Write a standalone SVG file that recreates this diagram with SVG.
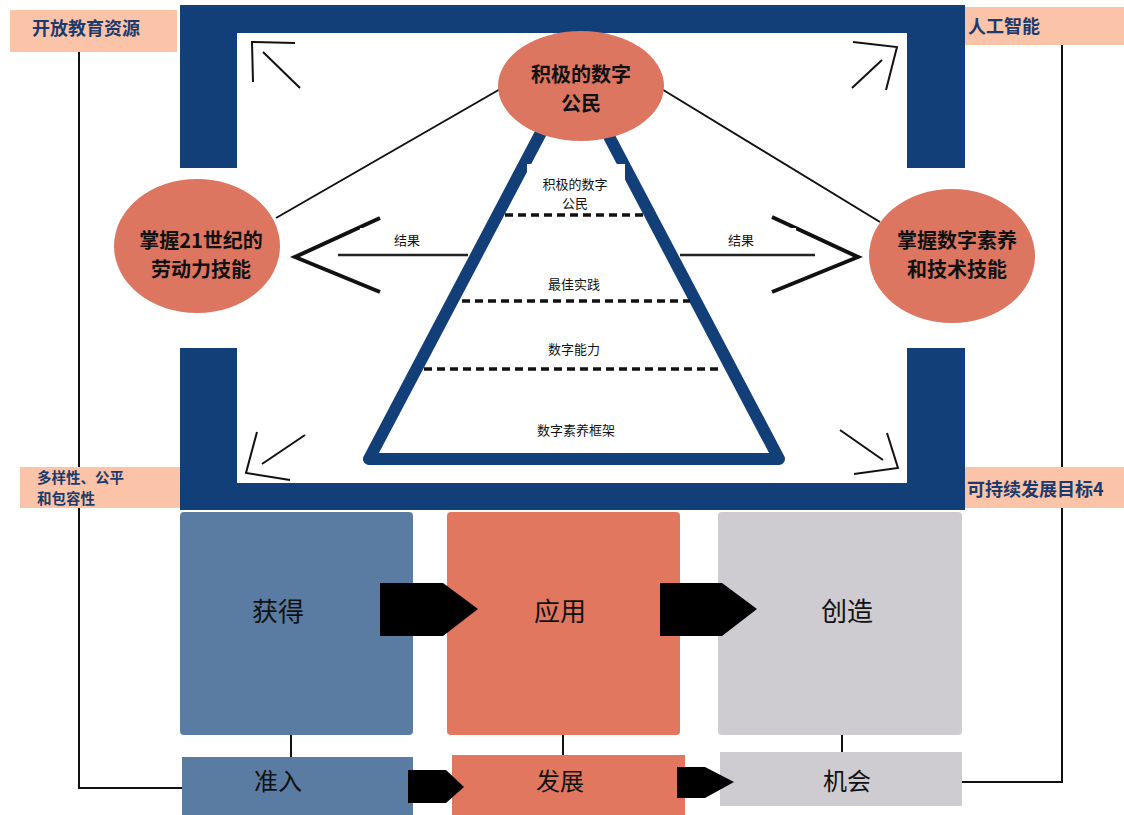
<svg xmlns="http://www.w3.org/2000/svg" width="1124" height="815" viewBox="0 0 1124 815">
<style>
text{font-family:"Noto Sans CJK SC","Noto Sans",sans-serif;text-anchor:middle}
.lab{font-weight:700;font-size:18px;fill:#1d3a6c;text-anchor:start}
.lab2{font-weight:700;font-size:14.5px;fill:#1d3a6c;text-anchor:start}
.peach{fill:#fbc4a8}
.frame{fill:#133f78}
.circ{fill:#dc7660}
.ct{font-weight:700;font-size:20px;fill:#111}
.thin{stroke:#111;stroke-width:2;fill:none}
.tri{font-size:13px;fill:#111}
.dash{stroke:#111;stroke-width:3.5;stroke-dasharray:8 5;fill:none}
.big{font-size:26px;fill:#111}
.bot{font-size:24px;fill:#111}
.arr{fill:#000}
</style>
<rect width="1124" height="815" fill="#fff"/>
<g id="connectors">
<polyline class="thin" points="79,52 79,788 182,788"/>
<polyline class="thin" points="1062,45 1062,782 962,782"/>
<line class="thin" x1="291" y1="735" x2="291" y2="757"/>
<line class="thin" x1="563" y1="735" x2="563" y2="755"/>
<line class="thin" x1="842" y1="735" x2="842" y2="752"/>
</g>
<g id="frame">
<rect class="frame" x="180" y="5" width="785" height="28"/>
<rect class="frame" x="180" y="483" width="785" height="27"/>
<rect class="frame" x="180" y="5" width="57" height="163"/>
<rect class="frame" x="180" y="348" width="57" height="162"/>
<rect class="frame" x="907" y="5" width="58" height="163"/>
<rect class="frame" x="907" y="348" width="58" height="162"/>
</g>
<g id="label-oer"><rect class="peach" x="10" y="10" width="167" height="42"/><text class="lab" x="32" y="35">开放教育资源</text></g>
<g id="label-ai"><rect class="peach" x="965" y="7" width="159" height="38"/><text class="lab" x="968" y="33">人工智能</text></g>
<g id="label-div"><rect class="peach" x="20" y="467" width="160" height="41"/><text class="lab2"><tspan x="37" y="483">多样性、公平</tspan><tspan x="37" y="504">和包容性</tspan></text></g>
<g id="label-sdg"><rect class="peach" x="965" y="467" width="159" height="41"/><text class="lab" x="967" y="496">可持续发展目标4</text></g>
<g id="corner-arrows">
<line class="thin" x1="300" y1="88" x2="263" y2="52"/><polyline class="thin" points="295,43 252,42 253,82"/>
<line class="thin" x1="852" y1="88" x2="882" y2="60"/><polyline class="thin" points="853,42 897,47 886,90"/>
<line class="thin" x1="305" y1="435" x2="262" y2="464"/><polyline class="thin" points="257,432 246,473 290,480"/>
<line class="thin" x1="840" y1="430" x2="883" y2="460"/><polyline class="thin" points="887,433 898,468 854,474"/>
</g>
<g id="links">
<line class="thin" x1="502" y1="88" x2="276" y2="218"/>
<line class="thin" x1="660" y1="88" x2="880" y2="222"/>
</g>
<g id="triangle">
<polygon points="574,70 369,459 779,459" fill="#fff" stroke="#133f78" stroke-width="12" stroke-linejoin="round"/>
<rect x="527" y="164" width="98" height="46" fill="#fff"/>
<line class="dash" x1="505" y1="215" x2="646" y2="215"/>
<line class="dash" x1="462" y1="301" x2="690" y2="301"/>
<line class="dash" x1="424" y1="369" x2="722" y2="369"/>
<text class="tri"><tspan x="575" y="189">积极的数字</tspan><tspan x="575" y="208">公民</tspan></text>
<text class="tri" x="574" y="289">最佳实践</text>
<text class="tri" x="574" y="354">数字能力</text>
<text class="tri" x="576" y="435">数字素养框架</text>
</g>
<g id="result-left">
<polyline points="380,218 295,257 380,292" fill="none" stroke="#111" stroke-width="4"/>
<line x1="338" y1="255" x2="468" y2="255" stroke="#222" stroke-width="2.5"/>
<rect x="360" y="228" width="107" height="22" fill="#fff"/>
<text class="tri" x="407" y="245">结果</text>
</g>
<g id="result-right">
<polyline points="772,217 858,257 772,292" fill="none" stroke="#111" stroke-width="4"/>
<line x1="680" y1="255" x2="815" y2="255" stroke="#222" stroke-width="2.5"/>
<rect x="688" y="228" width="108" height="22" fill="#fff"/>
<text class="tri" x="741" y="245">结果</text>
</g>
<g id="node-top"><ellipse class="circ" cx="581" cy="86" rx="83" ry="55"/><text class="ct"><tspan x="581" y="82">积极的数字</tspan><tspan x="581" y="111">公民</tspan></text></g>
<g id="node-left"><ellipse class="circ" cx="197" cy="246" rx="83" ry="67"/><text class="ct"><tspan x="201" y="248">掌握21世纪的</tspan><tspan x="201" y="277">劳动力技能</tspan></text></g>
<g id="node-right"><ellipse class="circ" cx="952" cy="256" rx="83" ry="67"/><text class="ct"><tspan x="957" y="248">掌握数字素养</tspan><tspan x="957" y="277">和技术技能</tspan></text></g>
<g id="col-acquire"><rect x="180" y="512" width="233" height="223" rx="4" fill="#5a7ca2"/><text class="big" x="278" y="621">获得</text></g>
<g id="col-apply"><rect x="447" y="512" width="233" height="223" rx="4" fill="#e0775e"/><text class="big" x="560" y="621">应用</text></g>
<g id="col-create"><rect x="718" y="512" width="244" height="223" rx="4" fill="#cecbd1"/><text class="big" x="847" y="621">创造</text></g>
<g id="node-access"><rect x="182" y="757" width="231" height="58" fill="#5a7ca2"/><text class="bot" x="278" y="790">准入</text></g>
<g id="node-develop"><rect x="452" y="755" width="233" height="60" fill="#e0775e"/><text class="bot" x="560" y="790">发展</text></g>
<g id="node-opportunity"><rect x="720" y="752" width="242" height="54" fill="#cecbd1"/><text class="bot" x="847" y="790">机会</text></g>
<g id="flow-arrows">
<polygon class="arr" points="380,583 443,583 478,609 443,636 380,636"/>
<polygon class="arr" points="660,583 722,583 757,609 722,636 660,636"/>
<polygon class="arr" points="408,770 446,770 464,787 446,803 408,803"/>
<polygon class="arr" points="677,767 705,767 734,782 705,798 677,798"/>
</g>
</svg>
